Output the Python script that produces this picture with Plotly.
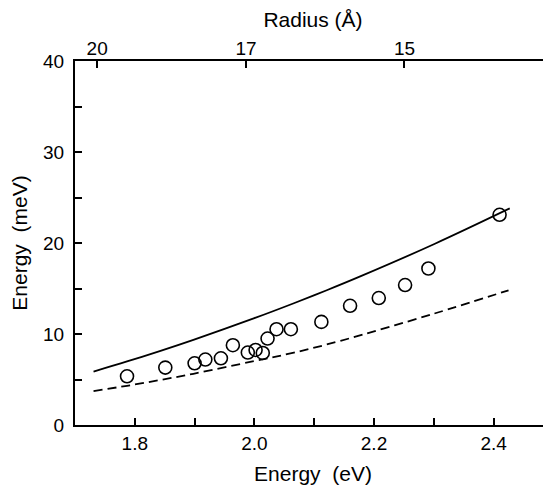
import plotly.graph_objects as go

# Data
point_energy_ev = [1.787, 1.851, 1.900, 1.918, 1.944, 1.964, 1.989, 2.002, 2.014, 2.022,
                   2.037, 2.061, 2.112, 2.160, 2.208, 2.252, 2.291, 2.410]
point_energy_mev = [5.35, 6.31, 6.78, 7.19, 7.33, 8.77, 7.96, 8.25, 7.92, 9.50,
                    10.53, 10.53, 11.33, 13.10, 13.95, 15.38, 17.20, 23.10]

solid_energy_ev = [1.731, 1.787, 1.843, 1.898, 2.000, 2.066, 2.121, 2.177, 2.301, 2.427]
solid_energy_mev = [5.87, 6.98, 8.15, 9.36, 11.74, 13.38, 14.81, 16.33, 19.89, 23.80]

dashed_energy_ev = [1.731, 1.787, 1.843, 1.898, 2.000, 2.066, 2.144, 2.301, 2.425]
dashed_energy_mev = [3.73, 4.31, 4.95, 5.63, 7.03, 7.95, 9.25, 12.25, 14.80]

bottom_tickvals = [1.8, 1.9, 2.0, 2.1, 2.2, 2.3, 2.4]
bottom_ticktext = ["1.8", "", "2.0", "", "2.2", "", "2.4"]
left_tickvals = [0, 5, 10, 15, 20, 25, 30, 35, 40]
left_ticktext = ["0", "", "10", "", "20", "", "30", "", "40"]
right_tickvals = [5, 10, 15, 20, 25, 30, 35]
radius_tick_energy = [1.737, 1.986, 2.251]
radius_ticktext = ["20", "17", "15"]

XRANGE = [1.7, 2.496]
YRANGE = [0, 40]
FONT = "Liberation Sans, Arial, Helvetica, sans-serif"

fig = go.Figure()
fig.add_trace(go.Scatter(x=solid_energy_ev, y=solid_energy_mev, mode="lines",
                         line=dict(color="black", width=1.8, shape="spline"),
                         showlegend=False))
fig.add_trace(go.Scatter(x=dashed_energy_ev, y=dashed_energy_mev, mode="lines",
                         line=dict(color="black", width=1.8, dash="9px,5px", shape="spline"),
                         showlegend=False))
fig.add_trace(go.Scatter(x=point_energy_ev, y=point_energy_mev, mode="markers",
                         marker=dict(symbol="circle-open", size=13,
                                     line=dict(color="black", width=1.6), color="black"),
                         showlegend=False))
# invisible traces for secondary axes
fig.add_trace(go.Scatter(x=[None], y=[None], xaxis="x2", yaxis="y", showlegend=False))
fig.add_trace(go.Scatter(x=[None], y=[None], xaxis="x", yaxis="y2", showlegend=False))

axis_common = dict(ticks="inside", ticklen=7, tickwidth=1.5, tickcolor="black",
                   showgrid=False, zeroline=False,
                   tickfont=dict(family=FONT, size=19, color="black"))

# page body has an 8px default margin, so the figure is 8px smaller
fig.update_layout(
    width=543, height=481,
    margin=dict(l=67, r=0, t=53, b=64),
    paper_bgcolor="white", plot_bgcolor="white",
    font=dict(family=FONT, color="black"),
    xaxis=dict(range=XRANGE, tickvals=bottom_tickvals, ticktext=bottom_ticktext,
               showline=True, linecolor="black", linewidth=2, mirror=False,
               title=dict(text="Energy  (eV)", font=dict(family=FONT, size=21), standoff=14),
               **axis_common),
    xaxis2=dict(range=XRANGE, overlaying="x", side="top", tickvals=radius_tick_energy,
                ticktext=radius_ticktext, showline=True, linecolor="black", linewidth=2,
                ticklabelstandoff=-4,
                title=dict(text="Radius (Å)", font=dict(family=FONT, size=21), standoff=6),
                **axis_common),
    yaxis=dict(range=YRANGE, tickvals=left_tickvals, ticktext=left_ticktext,
               showline=True, linecolor="black", linewidth=2, ticklabelstandoff=5,
               title=dict(text="Energy  (meV)", font=dict(family=FONT, size=21), standoff=10),
               **axis_common),
    yaxis2=dict(range=YRANGE, overlaying="y", side="right", tickvals=right_tickvals,
                showticklabels=False, showline=False, **axis_common),
)

fig.write_html("out.html")
